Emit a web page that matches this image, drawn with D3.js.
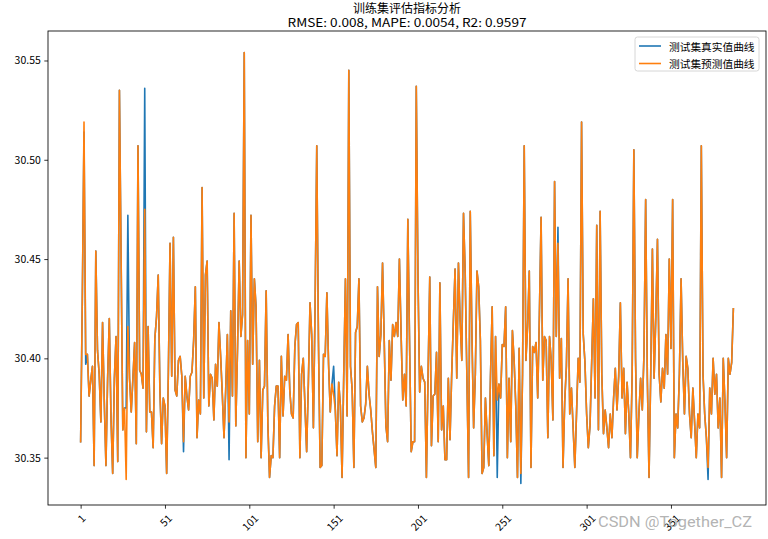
<!DOCTYPE html>
<html><head><meta charset="utf-8">
<script src="https://cdn.jsdelivr.net/npm/d3@7"></script>
<style>
html,body{margin:0;padding:0;background:#fff;}
svg{display:block;}
text{font-family:"Noto Sans CJK SC","DejaVu Sans",sans-serif;}
</style></head>
<body>
<svg id="chart" width="768" height="539"></svg>
<script>
const titleText = "训练集评估指标分析";
const subtitleText = "RMSE: 0.008, MAPE: 0.0054, R2: 0.9597";
const seriesNames = ["测试集真实值曲线", "测试集预测值曲线"];
const seriesColors = ["#1f77b4", "#ff7f0e"];
const xTickLabels = [1, 51, 101, 151, 201, 251, 301, 351];
const yTickValues = [30.35, 30.40, 30.45, 30.50, 30.55];

const actualValues = [
30.358,30.430,30.514,30.397,30.402,30.381,30.389,30.396,30.346,30.454,
30.404,30.392,30.368,30.418,30.379,30.346,30.390,30.420,30.370,30.342,
30.390,30.411,30.348,30.535,30.450,30.364,30.375,30.375,30.472,30.390,
30.373,30.390,30.408,30.357,30.507,30.394,30.392,30.385,30.536,30.363,
30.416,30.373,30.373,30.355,30.410,30.421,30.442,30.384,30.357,30.380,
30.376,30.342,30.392,30.458,30.391,30.461,30.384,30.381,30.399,30.401,
30.391,30.353,30.391,30.381,30.374,30.391,30.393,30.409,30.436,30.360,
30.379,30.372,30.486,30.380,30.442,30.449,30.376,30.392,30.390,30.369,
30.397,30.386,30.418,30.401,30.382,30.360,30.384,30.412,30.349,30.424,
30.381,30.473,30.366,30.404,30.449,30.411,30.422,30.554,30.350,30.409,
30.372,30.472,30.397,30.440,30.426,30.358,30.399,30.350,30.384,30.386,
30.434,30.367,30.340,30.351,30.350,30.376,30.386,30.386,30.350,30.401,
30.371,30.391,30.389,30.412,30.384,30.372,30.370,30.406,30.417,30.418,
30.350,30.392,30.400,30.376,30.353,30.387,30.428,30.412,30.365,30.426,
30.507,30.409,30.345,30.346,30.402,30.401,30.433,30.397,30.373,30.387,
30.396,30.374,30.351,30.388,30.376,30.340,30.392,30.440,30.371,30.545,
30.396,30.384,30.345,30.413,30.416,30.440,30.376,30.368,30.370,30.377,
30.396,30.382,30.374,30.363,30.354,30.345,30.436,30.401,30.412,30.448,
30.409,30.366,30.358,30.409,30.389,30.417,30.411,30.418,30.411,30.450,
30.412,30.379,30.392,30.376,30.470,30.409,30.353,30.358,30.358,30.537,
30.442,30.383,30.396,30.390,30.388,30.340,30.392,30.441,30.356,30.381,
30.382,30.403,30.358,30.438,30.364,30.376,30.349,30.349,30.390,30.359,
30.392,30.419,30.445,30.390,30.448,30.419,30.399,30.473,30.443,30.391,
30.340,30.474,30.412,30.365,30.392,30.444,30.436,30.409,30.342,30.345,
30.380,30.362,30.346,30.391,30.426,30.351,30.411,30.340,30.387,30.380,
30.407,30.406,30.426,30.350,30.390,30.358,30.414,30.399,30.376,30.340,
30.405,30.337,30.392,30.507,30.399,30.416,30.444,30.345,30.406,30.403,
30.408,30.380,30.422,30.471,30.389,30.411,30.409,30.360,30.411,30.399,
30.369,30.489,30.411,30.466,30.390,30.410,30.345,30.378,30.396,30.440,
30.372,30.385,30.365,30.345,30.372,30.400,30.388,30.519,30.412,30.398,
30.372,30.355,30.366,30.398,30.430,30.380,30.467,30.364,30.474,30.392,
30.362,30.374,30.365,30.355,30.372,30.360,30.380,30.395,30.374,30.391,
30.428,30.380,30.395,30.362,30.388,30.372,30.350,30.392,30.505,30.400,
30.350,30.372,30.390,30.374,30.402,30.480,30.390,30.340,30.392,30.455,
30.390,30.420,30.460,30.392,30.378,30.395,30.385,30.412,30.392,30.450,
30.405,30.480,30.350,30.372,30.365,30.392,30.440,30.398,30.372,30.401,
30.395,30.372,30.360,30.385,30.368,30.350,30.372,30.365,30.507,30.392,
30.372,30.360,30.339,30.385,30.372,30.400,30.382,30.392,30.365,30.380,
30.340,30.400,30.378,30.350,30.400,30.392,30.398,30.425
];

const predictedValues = [
30.358,30.430,30.519,30.402,30.402,30.381,30.389,30.396,30.346,30.454,
30.404,30.392,30.368,30.418,30.379,30.346,30.390,30.420,30.370,30.342,
30.390,30.411,30.348,30.535,30.450,30.364,30.375,30.339,30.416,30.390,
30.373,30.390,30.408,30.357,30.507,30.394,30.392,30.385,30.475,30.363,
30.416,30.373,30.373,30.355,30.410,30.421,30.442,30.384,30.357,30.380,
30.376,30.342,30.392,30.458,30.391,30.461,30.384,30.381,30.399,30.401,
30.391,30.358,30.391,30.381,30.374,30.391,30.393,30.409,30.436,30.360,
30.379,30.372,30.486,30.380,30.442,30.449,30.376,30.392,30.390,30.369,
30.397,30.386,30.418,30.401,30.382,30.360,30.384,30.412,30.368,30.424,
30.381,30.473,30.366,30.404,30.449,30.411,30.422,30.554,30.350,30.409,
30.372,30.472,30.397,30.440,30.426,30.358,30.399,30.350,30.384,30.386,
30.434,30.367,30.340,30.351,30.350,30.376,30.386,30.386,30.350,30.401,
30.371,30.391,30.389,30.412,30.384,30.372,30.370,30.406,30.417,30.418,
30.350,30.392,30.400,30.376,30.353,30.387,30.428,30.412,30.365,30.426,
30.507,30.409,30.345,30.346,30.402,30.401,30.433,30.397,30.373,30.387,
30.382,30.374,30.351,30.388,30.376,30.340,30.392,30.440,30.371,30.545,
30.396,30.384,30.345,30.413,30.416,30.440,30.376,30.368,30.370,30.377,
30.396,30.382,30.374,30.363,30.354,30.345,30.436,30.401,30.412,30.448,
30.409,30.366,30.358,30.409,30.389,30.417,30.411,30.418,30.411,30.450,
30.412,30.379,30.392,30.376,30.470,30.409,30.353,30.358,30.358,30.537,
30.442,30.383,30.396,30.390,30.388,30.340,30.392,30.441,30.356,30.381,
30.382,30.403,30.358,30.438,30.364,30.376,30.349,30.349,30.390,30.359,
30.392,30.419,30.445,30.390,30.448,30.419,30.399,30.473,30.443,30.391,
30.340,30.474,30.412,30.365,30.392,30.444,30.436,30.409,30.342,30.345,
30.380,30.362,30.346,30.391,30.426,30.351,30.411,30.379,30.387,30.380,
30.407,30.406,30.426,30.350,30.390,30.358,30.414,30.399,30.376,30.340,
30.405,30.342,30.392,30.507,30.399,30.416,30.444,30.345,30.406,30.403,
30.408,30.380,30.422,30.471,30.389,30.411,30.409,30.360,30.411,30.399,
30.369,30.489,30.411,30.458,30.390,30.410,30.345,30.378,30.396,30.440,
30.372,30.385,30.365,30.345,30.372,30.400,30.388,30.519,30.412,30.398,
30.372,30.355,30.366,30.398,30.430,30.380,30.467,30.364,30.474,30.392,
30.362,30.374,30.365,30.355,30.372,30.360,30.380,30.395,30.374,30.391,
30.428,30.380,30.395,30.362,30.388,30.372,30.350,30.392,30.505,30.400,
30.350,30.372,30.390,30.374,30.402,30.480,30.390,30.340,30.392,30.455,
30.390,30.420,30.460,30.392,30.378,30.395,30.385,30.412,30.392,30.450,
30.405,30.480,30.350,30.372,30.365,30.392,30.440,30.398,30.372,30.401,
30.395,30.372,30.360,30.385,30.368,30.350,30.372,30.365,30.507,30.392,
30.372,30.360,30.345,30.385,30.372,30.400,30.382,30.392,30.365,30.380,
30.340,30.400,30.378,30.350,30.400,30.392,30.398,30.425
];

const watermarkText = "CSDN @Together_CZ";

// ---------- drawing ----------
const svg = d3.select("#chart");
const W = 768, H = 539;
const plot = {left: 48, right: 766, top: 31, bottom: 505};
const N = actualValues.length;
const xIdx = d3.range(1, N + 1);

const xPad = 0.05 * (N - 1);
const x = d3.scaleLinear().domain([1 - xPad, N + xPad]).range([plot.left, plot.right]);
const allVals = actualValues.concat(predictedValues);
const ymin = d3.min(allVals), ymax = d3.max(allVals);
const yPad = 0.05 * (ymax - ymin);
const y = d3.scaleLinear().domain([ymin - yPad, ymax + yPad]).range([plot.bottom, plot.top]);

svg.append("rect").attr("width", W).attr("height", H).attr("fill", "#fff");

svg.append("clipPath").attr("id", "clip").append("rect")
  .attr("x", plot.left).attr("y", plot.top)
  .attr("width", plot.right - plot.left).attr("height", plot.bottom - plot.top);

const line = d3.line().x((d, i) => x(xIdx[i])).y(d => y(d));
const g = svg.append("g").attr("clip-path", "url(#clip)");
[actualValues, predictedValues].forEach((arr, k) => {
  g.append("path").datum(arr).attr("d", line)
    .attr("fill", "none").attr("stroke", seriesColors[k])
    .attr("stroke-width", 1.6).attr("stroke-linejoin", "round").attr("stroke-linecap", "square");
});

// axes
const yAxis = d3.axisLeft(y).tickValues(yTickValues).tickFormat(d3.format(".2f")).tickSize(3.7).tickPadding(3.5);
const yg = svg.append("g").attr("transform", `translate(${plot.left},0)`).call(yAxis);
yg.select(".domain").remove();
yg.selectAll("line").attr("stroke", "#000").attr("stroke-width", 0.8);
yg.selectAll("text").attr("font-size", 10.5).attr("fill", "#000")
  .style("font-family", '"Noto Sans CJK SC", sans-serif');

const xAxis = d3.axisBottom(x).tickValues(xTickLabels).tickFormat(d => String(d)).tickSize(3.7);
const xg = svg.append("g").attr("transform", `translate(0,${plot.bottom})`).call(xAxis);
xg.select(".domain").remove();
xg.selectAll("line").attr("stroke", "#000").attr("stroke-width", 0.8);
xg.selectAll("text").each(function() {
  const t = d3.select(this);
  t.attr("font-size", 10.5).attr("fill", "#000").attr("dy", null).attr("y", null)
   .attr("text-anchor", "middle").attr("dominant-baseline", "central");
  const w = this.getComputedTextLength();
  const h = 10.5;
  const half = (w + h) / (2 * Math.SQRT2);
  t.attr("transform", `translate(0,${3.7 + 3.5 + half}) rotate(-45)`);
});

// frame
svg.append("rect").attr("x", plot.left).attr("y", plot.top)
  .attr("width", plot.right - plot.left).attr("height", plot.bottom - plot.top)
  .attr("fill", "none").attr("stroke", "#000").attr("stroke-width", 0.85);

// titles
const cx = (plot.left + plot.right) / 2;
svg.append("text").attr("x", cx).attr("y", 12.5).attr("text-anchor", "middle")
  .attr("font-size", 12).attr("fill", "#000").text(titleText);
svg.append("text").attr("x", cx).attr("y", 27).attr("text-anchor", "middle")
  .attr("font-size", 11.5).attr("fill", "#000")
  .attr("textLength", 239).attr("lengthAdjust", "spacingAndGlyphs").text(subtitleText);

// legend
const lg = svg.append("g");
lg.append("rect").attr("x", 635).attr("y", 37).attr("width", 124).attr("height", 34)
  .attr("rx", 2.5).attr("fill", "#fff").attr("fill-opacity", 0.8)
  .attr("stroke", "#ccc").attr("stroke-width", 0.8);
seriesNames.forEach((name, k) => {
  const yy = 46 + k * 17.5;
  lg.append("line").attr("x1", 639).attr("x2", 661).attr("y1", yy).attr("y2", yy)
    .attr("stroke", seriesColors[k]).attr("stroke-width", 1.6);
  lg.append("text").attr("x", 669).attr("y", yy).attr("dominant-baseline", "central")
    .attr("font-size", 10.7).attr("fill", "#000").text(name);
});

// watermark
svg.append("text").attr("x", 598).attr("y", 527).attr("font-size", 15)
  .attr("fill", "#aaa").attr("fill-opacity", 0.9)
  .attr("textLength", 154).attr("lengthAdjust", "spacingAndGlyphs")
  .style("font-family", '"Roboto","Liberation Sans",sans-serif').text(watermarkText);
</script>
</body></html>
